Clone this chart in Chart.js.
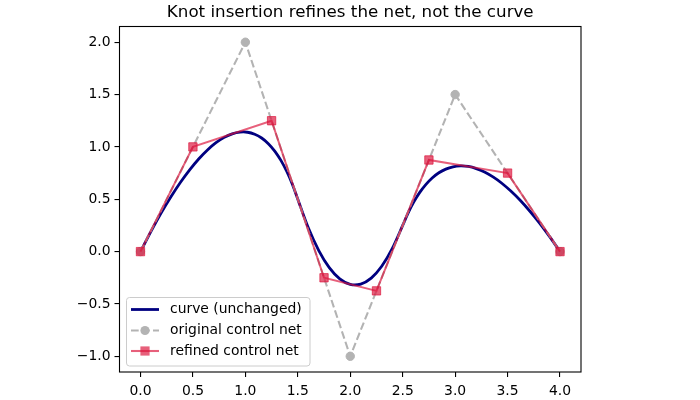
<!DOCTYPE html>
<html>
<head>
<meta charset="utf-8">
<script src="https://cdn.jsdelivr.net/npm/chart.js@4/dist/chart.umd.min.js"></script>
<style>
  html, body { margin: 0; padding: 0; background: #fff; }
  #wrap { width: 700px; height: 400px; }
</style>
</head>
<body>
<div id="wrap"><canvas id="c" width="700" height="400"></canvas></div>
<script>
// ---- data ----
const titleText = "Knot insertion refines the net, not the curve";
const seriesNames = ["curve (unchanged)", "original control net", "refined control net"];

const curveX = [0, 0.099, 0.195, 0.289, 0.38, 0.469, 0.555, 0.639, 0.72, 0.799, 0.875, 0.949, 1.02, 1.089, 1.155, 1.219, 1.28, 1.339, 1.395, 1.449, 1.5,
  1.6, 1.7, 1.8, 1.9, 2.0, 2.1, 2.2, 2.3, 2.4, 2.5,
  2.551, 2.605, 2.661, 2.72, 2.781, 2.845, 2.911, 2.98, 3.051, 3.125, 3.201, 3.28, 3.361, 3.445, 3.531, 3.62, 3.711, 3.805, 3.901, 4.0];
const curveY = [0, 0.191, 0.365, 0.521, 0.66, 0.781, 0.885, 0.971, 1.04, 1.091, 1.125, 1.141, 1.14, 1.121, 1.085, 1.031, 0.96, 0.871, 0.765, 0.641, 0.5,
  0.228, 0.01, -0.153, -0.26, -0.313, -0.31, -0.253, -0.14, 0.028, 0.25,
  0.368, 0.473, 0.563, 0.64, 0.703, 0.753, 0.788, 0.81, 0.818, 0.813, 0.793, 0.76, 0.713, 0.653, 0.578, 0.49, 0.388, 0.273, 0.143, 0];

const origX = [0, 1, 2, 3, 4];
const origY = [0, 2, -1, 1.5, 0];

const refX = [0, 0.5, 1.25, 1.75, 2.25, 2.75, 3.5, 4];
const refY = [0, 1, 1.25, -0.25, -0.375, 0.875, 0.75, 0];

const xTicks = [0, 0.5, 1, 1.5, 2, 2.5, 3, 3.5, 4];
const yTicks = [-1, -0.5, 0, 0.5, 1, 1.5, 2];

// ---- styles ----
const NAVY = '#000080';
const GRAY = '#b3b3b3';
const RED = 'rgba(220,20,60,0.68)';
const FONT = "'DejaVu Sans', 'Liberation Sans', sans-serif";

function pts(xs, ys) { return xs.map((x, i) => ({ x: x, y: ys[i] })); }
function fmt(v) { const s = Number(v).toFixed(1); return s.replace('-', '\u2212'); }

const framePlugin = {
  id: 'frameTitleLegend',
  afterDraw(chart) {
    const ctx = chart.ctx;
    const a = chart.chartArea;
    ctx.save();
    // frame
    ctx.strokeStyle = '#000';
    ctx.lineWidth = 1.1;
    ctx.strokeRect(a.left, a.top, a.right - a.left, a.bottom - a.top);
    // title
    ctx.fillStyle = '#000';
    ctx.font = "16.7px " + FONT;
    ctx.textAlign = 'center';
    ctx.textBaseline = 'alphabetic';
    ctx.fillText(titleText, (a.left + a.right) / 2, 17);
    // legend box
    const bx = 126.5, by = 297.5, bw = 183.5, bh = 68.5, r = 3;
    ctx.beginPath();
    ctx.moveTo(bx + r, by);
    ctx.lineTo(bx + bw - r, by);
    ctx.arcTo(bx + bw, by, bx + bw, by + r, r);
    ctx.lineTo(bx + bw, by + bh - r);
    ctx.arcTo(bx + bw, by + bh, bx + bw - r, by + bh, r);
    ctx.lineTo(bx + r, by + bh);
    ctx.arcTo(bx, by + bh, bx, by + bh - r, r);
    ctx.lineTo(bx, by + r);
    ctx.arcTo(bx, by, bx + r, by, r);
    ctx.closePath();
    ctx.fillStyle = 'rgba(255,255,255,0.8)';
    ctx.fill();
    ctx.strokeStyle = '#cccccc';
    ctx.lineWidth = 1;
    ctx.stroke();

    const hx0 = 131, hx1 = 159, hc = 145, tx = 170;
    const rows = [309.5, 330.5, 351];
    // row 1: navy line
    ctx.beginPath();
    ctx.strokeStyle = NAVY; ctx.lineWidth = 2.8; ctx.setLineDash([]);
    ctx.moveTo(hx0, rows[0]); ctx.lineTo(hx1, rows[0]); ctx.stroke();
    // row 2: gray dashed with circle
    ctx.beginPath();
    ctx.strokeStyle = GRAY; ctx.lineWidth = 2.08; ctx.setLineDash([7.7, 3.3]);
    ctx.moveTo(hx0, rows[1]); ctx.lineTo(hx1, rows[1]); ctx.stroke();
    ctx.setLineDash([]);
    ctx.beginPath();
    ctx.fillStyle = GRAY;
    ctx.arc(hc, rows[1], 4.6, 0, Math.PI * 2); ctx.fill();
    // row 3: red line with square
    ctx.beginPath();
    ctx.strokeStyle = RED; ctx.lineWidth = 2.08;
    ctx.moveTo(hx0, rows[2]); ctx.lineTo(hx1, rows[2]); ctx.stroke();
    ctx.fillStyle = RED;
    ctx.fillRect(hc - 4.6, rows[2] - 4.6, 9.2, 9.2);
    // texts
    ctx.fillStyle = '#000';
    ctx.font = "13.9px " + FONT;
    ctx.textAlign = 'left';
    ctx.textBaseline = 'middle';
    seriesNames.forEach((n, i) => ctx.fillText(n, tx, rows[i]));
    ctx.restore();
  }
};

new Chart(document.getElementById('c'), {
  type: 'line',
  data: {
    datasets: [
      {
        label: seriesNames[0], data: pts(curveX, curveY), order: 3,
        borderColor: NAVY, borderWidth: 2.8, pointRadius: 0, tension: 0.3, fill: false
      },
      {
        label: seriesNames[1], data: pts(origX, origY), order: 2,
        borderColor: GRAY, borderWidth: 2.08, borderDash: [7.7, 3.3], tension: 0, fill: false,
        pointStyle: 'circle', pointRadius: 4.2, pointBackgroundColor: GRAY,
        pointBorderColor: GRAY, pointBorderWidth: 1
      },
      {
        label: seriesNames[2], data: pts(refX, refY), order: 1,
        borderColor: RED, borderWidth: 2.0, tension: 0, fill: false,
        pointStyle: 'rect', pointRadius: 5.9, pointBackgroundColor: RED,
        pointBorderColor: RED, pointBorderWidth: 1
      }
    ]
  },
  options: {
    responsive: false,
    animation: false,
    devicePixelRatio: 1,
    layout: { padding: { left: 0, right: 119, top: 26.5, bottom: 0 } },
    plugins: { legend: { display: false }, title: { display: false }, tooltip: { enabled: false } },
    scales: {
      x: {
        type: 'linear', min: -0.2, max: 4.2,
        afterBuildTicks: s => { s.ticks = xTicks.map(v => ({ value: v })); },
        afterFit: s => { s.height = 28; },
        grid: { drawOnChartArea: false, drawTicks: true, tickLength: 5, tickColor: '#000', lineWidth: 1.1 },
        border: { display: false },
        ticks: { callback: v => fmt(v), color: '#000', font: { family: FONT, size: 13.9 }, padding: 6, maxRotation: 0, autoSkip: false }
      },
      y: {
        type: 'linear', min: -1.15, max: 2.15,
        afterBuildTicks: s => { s.ticks = yTicks.map(v => ({ value: v })); },
        afterFit: s => { s.width = 119.5; },
        grid: { drawOnChartArea: false, drawTicks: true, tickLength: 5, tickColor: '#000', lineWidth: 1.1 },
        border: { display: false },
        ticks: { callback: v => fmt(v), color: '#000', font: { family: FONT, size: 13.9 }, padding: 4, autoSkip: false }
      }
    }
  },
  plugins: [framePlugin]
});
</script>
</body>
</html>
